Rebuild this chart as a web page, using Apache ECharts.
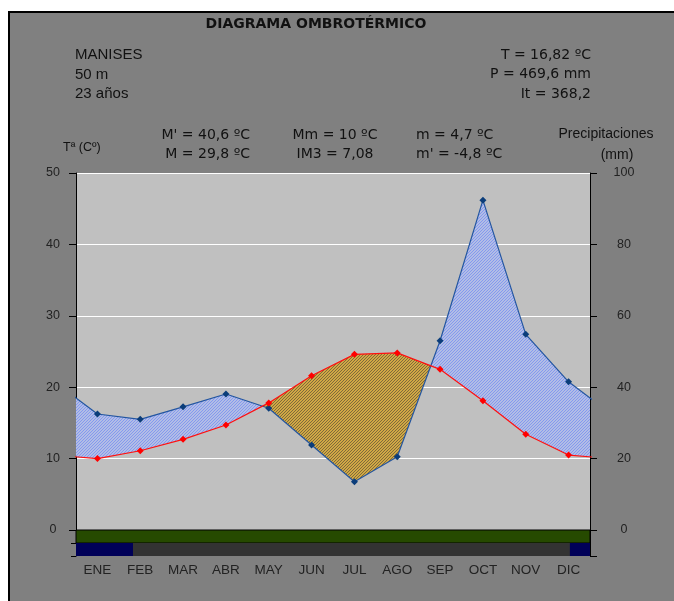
<!DOCTYPE html>
<html><head><meta charset="utf-8">
<script src="https://cdn.jsdelivr.net/npm/echarts@6/dist/echarts.min.js"></script>
<style>html,body{margin:0;padding:0;background:#fff}#c{width:674px;height:601px}</style>
</head><body><div id="c"></div>
<script>
// ---- data ----
const months = ['ENE','FEB','MAR','ABR','MAY','JUN','JUL','AGO','SEP','OCT','NOV','DIC'];
const temperature = [10.0,11.1,12.7,14.7,17.8,21.6,24.6,24.8,22.5,18.1,13.4,10.5];
const precipitation = [32.5,31.0,34.5,38.1,34.1,23.8,13.5,20.5,53.0,92.4,54.8,41.5];
const tempAxis = {min:0, max:50, step:10};
const precipAxis = {min:0, max:100, step:20};
const frostFreePeriods = [[0,12]];          // months (band 1)
const probableFrostPeriods = [[0,1.33],[11.53,12]]; // months (band 2)
const stationLines = ['MANISES','50 m','23 años'];
const summaryLines = ['T = 16,82 ºC','P = 469,6 mm','It = 368,2'];
const indexCol1 = ["M' = 40,6 ºC","M = 29,8 ºC"];
const indexCol2 = ['Mm = 10 ºC','IM3 = 7,08'];
const indexCol3 = ['m = 4,7 ºC',"m' = -4,8 ºC"];
const titleText = 'DIAGRAMA OMBROTÉRMICO';

// ---- helpers ----
const ratio = tempAxis.max / precipAxis.max;
function wrap(arr){ const out=[]; for(let i=-1;i<=12;i++){ out.push([i+0.5, arr[(i+12)%12]]); } return out; }
function hatch(bg, fg){
  const c=document.createElement('canvas'); c.width=3; c.height=3;
  const g=c.getContext('2d');
  for(let x=0;x<3;x++) for(let y=0;y<3;y++){ g.fillStyle = ((x+y)%3===0)?fg:bg; g.fillRect(x,y,1,1); }
  return c;
}
const humidPattern = {image: hatch('#b2bde6','#8499ee'), repeat:'repeat'};
const dryPattern = {image: hatch('#d0a845','#7f6a3a'), repeat:'repeat'};

function regions(){
  const T = wrap(temperature), P = wrap(precipitation).map(d=>[d[0], d[1]*ratio]);
  const res=[]; let cur=null;
  for(let i=0;i<T.length-1;i++){
    const ax=T[i][0], bx=T[i+1][0];
    const da=P[i][1]-T[i][1], db=P[i+1][1]-T[i+1][1];
    if(!cur) cur={wet:da>=0, top:[[ax,P[i][1]]], bot:[[ax,T[i][1]]]};
    if(da*db<0){
      const t=da/(da-db), xc=ax+t*(bx-ax), yc=T[i][1]+t*(T[i+1][1]-T[i][1]);
      cur.top.push([xc,yc]); cur.bot.push([xc,yc]); res.push(cur);
      cur={wet:db>=0, top:[[xc,yc]], bot:[[xc,yc]]};
    }
    cur.top.push([bx,P[i+1][1]]); cur.bot.push([bx,T[i+1][1]]);
  }
  res.push(cur);
  return res;
}
const fillRegions = regions();

const bandData = [];
frostFreePeriods.forEach(p=>bandData.push([p[0],p[1],0,'#264a00']));
bandData.push([0,12,1,'#333333']);
probableFrostPeriods.forEach(p=>bandData.push([p[0],p[1],1,'#000058']));

const FONT = '"Liberation Sans", Arial, sans-serif';
const WFONT = '"DejaVu Sans", Verdana, sans-serif';
const txt = (text,x,y,align,size,fam)=>({type:'text', x, y, style:{text, fill:'#111', font:(size||15)+'px '+(fam||FONT), textAlign:align, textVerticalAlign:'middle'}});
const graphics = [
  {type:'rect', shape:{x:0,y:0,width:674,height:11}, style:{fill:'#fff'}},
  {type:'rect', shape:{x:0,y:0,width:8,height:601}, style:{fill:'#fff'}},
  {type:'rect', shape:{x:9,y:12,width:700,height:700}, style:{fill:'none', stroke:'#000', lineWidth:2}},
  {type:'text', x:316, y:24, style:{text:titleText, fill:'#111', font:'bold 14px "DejaVu Sans", Verdana, sans-serif', textAlign:'center', textVerticalAlign:'middle'}}
];
stationLines.forEach((s,i)=>graphics.push(txt(s,75,55+i*19.5,'left')));
summaryLines.forEach((s,i)=>graphics.push(txt(s,591,55+i*19.5,'right',14,WFONT)));
indexCol1.forEach((s,i)=>graphics.push(txt(s,250,135+i*19,'right',14,WFONT)));
indexCol2.forEach((s,i)=>graphics.push(txt(s,335,135+i*19,'center',14,WFONT)));
indexCol3.forEach((s,i)=>graphics.push(txt(s,416,135+i*19,'left',14,WFONT)));
graphics.push(txt('Tª (Cº)',63,148,'left',12.5));
graphics.push(txt('Precipitaciones',606,134,'center',14));
graphics.push(txt('(mm)',617,155,'center',14));

const axisLbl = {color:'#222', fontSize:12.5, fontFamily:FONT};
const blk = {lineStyle:{color:'#000', width:1}};

const option = {
  backgroundColor:'#808080',
  animation:false,
  grid:[
    {left:76, top:173, width:514, height:357, show:true, backgroundColor:'#c0c0c0', borderWidth:0},
    {left:76, top:530, width:514, height:26, show:false}
  ],
  xAxis:[
    {type:'value', gridIndex:0, min:0, max:12, show:false},
    {type:'category', gridIndex:1, data:months, boundaryGap:true, position:'bottom',
     axisLine:{show:true, ...blk}, axisTick:{show:true, length:6, ...blk},
     axisLabel:Object.assign({}, axisLbl, {margin:7, fontSize:13.5})},
    {type:'value', gridIndex:1, min:0, max:12, show:false}
  ],
  yAxis:[
    {type:'value', gridIndex:0, min:tempAxis.min, max:tempAxis.max, interval:tempAxis.step, position:'left',
     axisLine:{show:true, ...blk}, axisTick:{show:true, length:7, ...blk},
     axisLabel:Object.assign({margin:23, align:'center'}, axisLbl),
     splitLine:{show:true, lineStyle:{color:'#ffffff', width:1}}},
    {type:'value', gridIndex:0, min:precipAxis.min, max:precipAxis.max, interval:precipAxis.step, position:'right',
     axisLine:{show:true, ...blk}, axisTick:{show:true, length:7, ...blk},
     axisLabel:Object.assign({margin:34, align:'center'}, axisLbl), splitLine:{show:false}},
    {type:'value', gridIndex:1, min:0, max:2, interval:1, inverse:true, position:'left',
     axisLine:{show:true, ...blk}, axisTick:{show:true, length:5, ...blk}, axisLabel:{show:false}, splitLine:{show:false}},
    {type:'value', gridIndex:1, min:0, max:2, interval:2, inverse:true, position:'right',
     axisLine:{show:true, ...blk}, axisTick:{show:true, length:7, ...blk}, axisLabel:{show:false}, splitLine:{show:false}}
  ],
  graphic:{elements:graphics},
  series:[
    {type:'custom', xAxisIndex:0, yAxisIndex:0, clip:true, z:1, silent:true, data:[0],
     renderItem:(params, api)=>({type:'group', children: fillRegions.map(r=>({
        type:'polygon',
        shape:{points: r.top.concat(r.bot.slice().reverse()).map(p=>api.coord(p))},
        style:{fill: r.wet?humidPattern:dryPattern, stroke:'none'}
     }))})},
    {type:'custom', xAxisIndex:2, yAxisIndex:2, z:1, silent:true, data:bandData,
     renderItem:(params, api)=>{
       const a=api.coord([api.value(0), api.value(2)]), b=api.coord([api.value(1), api.value(2)+1]);
       return {type:'rect', shape:{x:a[0], y:a[1], width:b[0]-a[0], height:b[1]-a[1]},
         style:{fill: bandData[params.dataIndex][3], stroke: api.value(2)===0?'#000':'none', lineWidth:1}};
     }},
    {type:'line', name:'Precipitaciones', xAxisIndex:0, yAxisIndex:1, data:wrap(precipitation), clip:true, z:5,
     symbol:'diamond', symbolSize:7, itemStyle:{color:'#0b3d7a'}, lineStyle:{color:'#2456a0', width:1.2}},
    {type:'line', name:'Temperatura', xAxisIndex:0, yAxisIndex:0, data:wrap(temperature), clip:true, z:5,
     symbol:'diamond', symbolSize:7, itemStyle:{color:'#ff0000'}, lineStyle:{color:'#ff1010', width:1.2}}
  ]
};
const chart = echarts.init(document.getElementById('c'));
chart.setOption(option);
</script></body></html>
